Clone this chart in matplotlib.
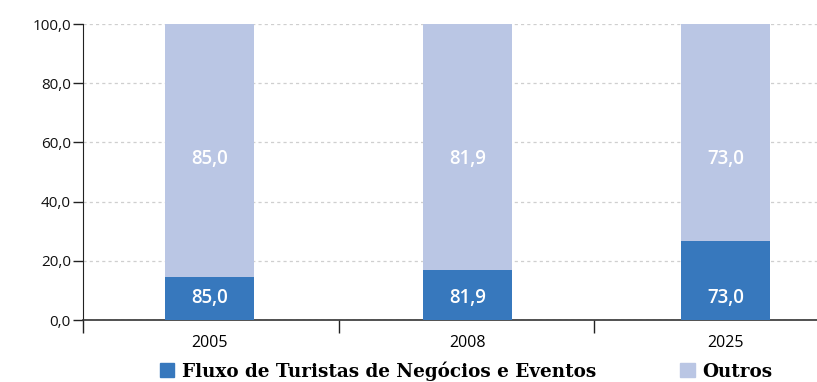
import matplotlib
matplotlib.use("Agg")
import matplotlib.pyplot as plt
from matplotlib.patches import Patch
import numpy as np

# Data
years = ["2005", "2008", "2025"]
negocios = [14.3, 16.6, 26.7]          # share of business & events tourists
outros = [85.0, 81.9, 73.0]            # share of other tourists (labelled values)
series_names = ["Fluxo de Turistas de Negócios e Eventos", "Outros"]
y_ticks = [0, 20, 40, 60, 80, 100]

blue = "#3778BD"
light = "#BAC6E4"

# 100% stacked shares
neg = np.array(negocios)
out = np.array(outros)
total = neg + out
neg_pct = neg / total * 100
out_pct = out / total * 100

fig = plt.figure(figsize=(8.17, 3.82), dpi=100)
ax = fig.add_axes([83.3 / 817, 1 - 320 / 382, 1 - 83.3 / 817, (320 - 24) / 382])

x = np.arange(len(years))
unit = 258.0
x0 = -(209.5 - 83.3) / unit
w = 89 / unit
ax.bar(x, neg_pct, width=w, color=blue, zorder=3)
ax.bar(x, out_pct, width=w, bottom=neg_pct, color=light, zorder=3)

def fmt(v):
    return f"{v:.1f}".replace(".", ",")

lab_font = dict(ha="center", va="center", color="white", fontsize=13.5,
                family="Open Sans", fontweight="semibold", zorder=4)
for xi, v in zip(x, outros):
    ax.text(xi, 7.3, fmt(v), **lab_font)
    ax.text(xi, 54.4, fmt(v), **lab_font)

ax.set_ylim(0, 100)
ax.set_xlim(x0, x0 + (817 - 83.3) / unit)
ax.set_yticks(y_ticks)
ax.set_yticklabels([fmt(v) for v in y_ticks], family="Open Sans", fontsize=11)
ax.yaxis.grid(True, linestyle=(0, (2.5, 2.5)), color="#CFCFCF", linewidth=0.9, zorder=0)

# category boundaries as ticks, year labels centred under bars
ax.set_xticks([x0, 0.5, 1.49])
ax.set_xticklabels([])
ax.tick_params(axis="x", length=9, width=1, color="#222222", direction="out")
ax.set_xticks(x, minor=True)
ax.set_xticklabels(years, minor=True, family="Open Sans", fontsize=11.5)
ax.tick_params(axis="x", which="minor", length=0, pad=11)
ax.tick_params(axis="y", length=7, width=1, color="#222222", pad=2, labelcolor="#111111")

for s in ["top", "right"]:
    ax.spines[s].set_visible(False)
ax.spines["left"].set_color("#222222")
ax.spines["bottom"].set_color("#333333")
ax.spines["bottom"].set_linewidth(1.2)

handles = [Patch(color=blue), Patch(color=light)]
fig.legend(handles, series_names, loc="center", bbox_to_anchor=(466 / 817, 1 - 371 / 382),
           ncol=2, frameon=False, handlelength=0.8, handleheight=0.8, handletextpad=0.4,
           columnspacing=4.6, borderaxespad=0,
           prop={"family": "DejaVu Serif", "weight": "bold", "size": 13.2})

fig.savefig("out.png", dpi=100)
